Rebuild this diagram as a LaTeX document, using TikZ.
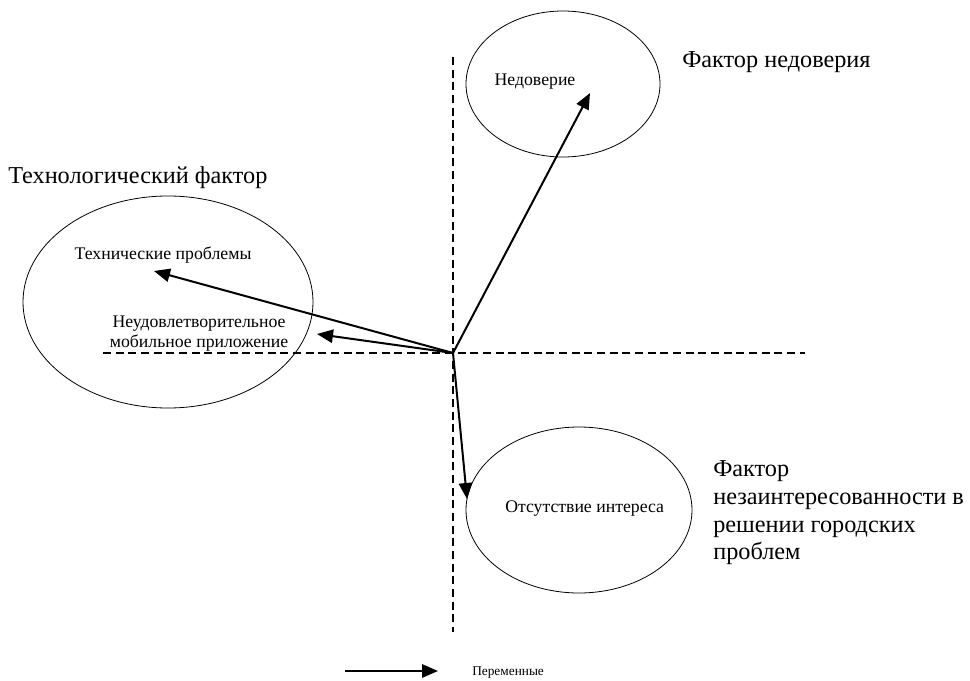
\documentclass[tikz,border=0pt]{standalone}
\usepackage{fontspec}
\setmainfont{Liberation Serif}
\usepackage{tikz}
\usetikzlibrary{arrows.meta}

\tikzset{
	oval/.style={black, line width=0.6pt},
	axis/.style={black, line width=1.5pt, dash pattern=on 6pt off 3.5pt},
	vec/.style={black, line width=1.5pt, -{Triangle[length=12pt, width=10pt]}},
	big/.style={font=\fontsize{18.2}{20.8}\selectfont, inner sep=0pt},
	small/.style={font=\fontsize{13.3}{15}\selectfont, inner sep=0pt}
}

\begin{document}
\begin{tikzpicture}[x=0.75pt, y=-0.75pt]
	\useasboundingbox (0,0) rectangle (970,681);
	% axes
	\coordinate (o) at (453,353);
	\coordinate (vtop) at (453,57);
	\coordinate (vbot) at (453,632);
	\coordinate (hl) at (103,353);
	\coordinate (hr) at (805,353);
	\draw[axis] (vtop) -- (vbot);
	\draw[axis] (hl) -- (hr);
	% factor ellipses
	\draw[oval] (563,84) ellipse [x radius=72.75pt, y radius=54.75pt];
	\draw[oval] (168,302) ellipse [x radius=108.75pt, y radius=79.5pt];
	\draw[oval] (579,510) ellipse [x radius=84.75pt, y radius=62.25pt];
	% labels
	\node[big, anchor=west] (fdov) at (682,62) {Фактор недоверия};
	\node[big, anchor=west] (ftech) at (8,178) {Технологический фактор};
	\node[big, anchor=west, align=left] (fint) at (713,513) {Фактор\\незаинтересованности в\\решении городских\\проблем};
	\node[small] (dov) at (535,82) {Недоверие};
	\node[small] (tech) at (163,255) {Технические проблемы};
	\node[small, align=center] (mob) at (199,334) {Неудовлетворительное\\мобильное приложение};
	\node[small, anchor=west] (int) at (505,509) {Отсутствие интереса};
	% variables
	\coordinate (a1) at (590,93);
	\coordinate (a2) at (154,271);
	\coordinate (a3) at (317,334);
	\coordinate (a4) at (467,499);
	\draw[vec] (o) -- (a1);
	\draw[vec] (o) -- (a2);
	\draw[vec] (o) -- (a3);
	\draw[vec] (o) -- (a4);
	% legend
	\coordinate (l1) at (345,671);
	\coordinate (l2) at (438,671);
	\draw[vec] (l1) -- (l2);
	\node[font=\fontsize{10}{12}\selectfont, inner sep=0pt, anchor=west] (leg) at (472,673) {Переменные};
\end{tikzpicture}
\end{document}
